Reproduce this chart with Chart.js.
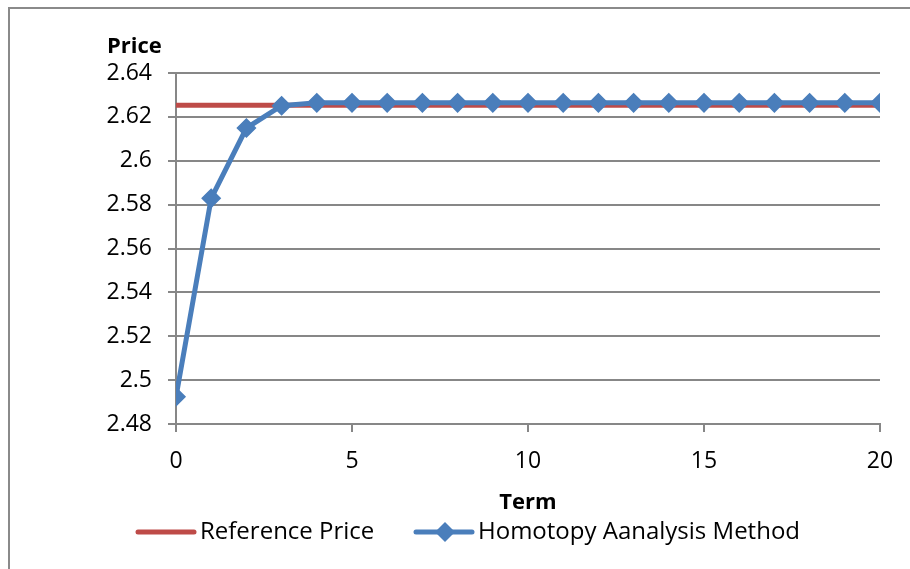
<!DOCTYPE html>
<html>
<head>
<meta charset="utf-8">
<script src="https://cdn.jsdelivr.net/npm/chart.js@4/dist/chart.umd.min.js"></script>
<style>
  html, body { margin: 0; padding: 0; background: #fff; }
  #wrap { position: relative; width: 910px; height: 569px; overflow: hidden; }
  #frame { position: absolute; left: 8px; top: 7px; width: 1000px; height: 1000px;
           border-left: 2px solid #8a8a8a; border-top: 2px solid #8a8a8a; box-sizing: border-box; }
  canvas { position: absolute; left: 0; top: 0; }
</style>
</head>
<body>
<div id="wrap">
  <div id="frame"></div>
  <canvas id="c" width="910" height="569"></canvas>
</div>
<script>
// ---- data ----
const terms = [0,1,2,3,4,5,6,7,8,9,10,11,12,13,14,15,16,17,18,19,20];
const hamValues = [2.4924, 2.5829, 2.6149, 2.6251, 2.6264, 2.6264, 2.6264, 2.6264, 2.6264, 2.6264, 2.6264,
                   2.6264, 2.6264, 2.6264, 2.6264, 2.6264, 2.6264, 2.6264, 2.6264, 2.6264, 2.6264];
const refValues = [2.6253, 2.6253, 2.6253, 2.6253, 2.6253, 2.6253, 2.6253, 2.6253, 2.6253, 2.6253, 2.6253,
                   2.6253, 2.6253, 2.6253, 2.6253, 2.6253, 2.6253, 2.6253, 2.6253, 2.6253, 2.6253];
const yTickLabels = ['2.48','2.5','2.52','2.54','2.56','2.58','2.6','2.62','2.64'];
const xTickLabels = ['0','5','10','15','20'];
const seriesNames = ['Reference Price', 'Homotopy Aanalysis Method'];
const yTitle = 'Price';
const xTitle = 'Term';

const FONT = "'Open Sans', 'Liberation Sans', sans-serif";
const RED = '#be4b48';
const BLUE = '#4a7ebb';
const GRID = '#878787';

const yTitlePlugin = {
  id: 'yTitle',
  afterDraw(chart) {
    const ctx = chart.ctx;
    ctx.save();
    ctx.font = "bold 22px " + FONT;
    ctx.fillStyle = '#000';
    ctx.textAlign = 'left';
    ctx.textBaseline = 'middle';
    ctx.fillText(yTitle, 107, 47);
    ctx.restore();
  }
};

const legendPlugin = {
  id: 'customLegend',
  afterDraw(chart) {
    const ctx = chart.ctx;
    const y = 532;
    ctx.save();
    ctx.font = "24px " + FONT;
    ctx.textBaseline = 'middle';
    ctx.textAlign = 'left';
    const items = [
      { name: seriesNames[0], color: RED, marker: false, x: 136 },
      { name: seriesNames[1], color: BLUE, marker: true, x: 414 }
    ];
    items.forEach(it => {
      ctx.strokeStyle = it.color;
      ctx.lineWidth = 5;
      ctx.lineCap = 'round';
      ctx.beginPath();
      ctx.moveTo(it.x + 2, y);
      ctx.lineTo(it.x + 58, y);
      ctx.stroke();
      if (it.marker) {
        const cx = it.x + 31, r = 10;
        ctx.fillStyle = it.color;
        ctx.beginPath();
        ctx.moveTo(cx, y - r); ctx.lineTo(cx + r, y); ctx.lineTo(cx, y + r); ctx.lineTo(cx - r, y);
        ctx.closePath(); ctx.fill();
      }
      ctx.fillStyle = '#000';
      ctx.fillText(it.name, it.x + 64, y);
    });
    ctx.restore();
  }
};

new Chart(document.getElementById('c'), {
  type: 'line',
  data: {
    datasets: [
      {
        label: seriesNames[0],
        data: terms.map((t, i) => ({ x: t, y: refValues[i] })),
        borderColor: RED,
        backgroundColor: RED,
        borderWidth: 5,
        pointRadius: 0,
        pointHoverRadius: 0,
        order: 2
      },
      {
        label: seriesNames[1],
        data: terms.map((t, i) => ({ x: t, y: hamValues[i] })),
        borderColor: BLUE,
        backgroundColor: BLUE,
        borderWidth: 5,
        pointStyle: 'rectRot',
        pointRadius: 9,
        pointBorderWidth: 1.5,
        pointBackgroundColor: BLUE,
        pointBorderColor: BLUE,
        order: 1
      }
    ]
  },
  options: {
    responsive: false,
    animation: false,
    events: [],
    layout: { padding: { top: 73, right: 30, bottom: 0, left: 0 } },
    plugins: {
      legend: { display: false },
      tooltip: { enabled: false },
      title: { display: false }
    },
    scales: {
      x: {
        type: 'linear',
        min: 0, max: 20,
        afterFit(s) { s.height = 145; },
        afterBuildTicks(s) { s.ticks = xTickLabels.map(v => ({ value: Number(v) })); },
        ticks: {
          callback: (v) => xTickLabels.find(l => Number(l) === v) ?? '',
          font: { family: FONT, size: 23 },
          color: '#000',
          padding: 16,
          maxRotation: 0
        },
        grid: { drawOnChartArea: false, drawTicks: true, tickLength: 8, color: GRID, lineWidth: 2 },
        border: { display: true, color: GRID, width: 2 },
        title: {
          display: true, text: xTitle, color: '#000',
          font: { family: FONT, size: 22, weight: 'bold' },
          padding: { top: 0, bottom: 53 }
        }
      },
      y: {
        type: 'linear',
        min: 2.48, max: 2.64,
        afterFit(s) { s.width = 176; },
        afterBuildTicks(s) { s.ticks = yTickLabels.map(v => ({ value: Number(v) })); },
        ticks: {
          callback: (v) => yTickLabels.find(l => Math.abs(Number(l) - v) < 1e-9) ?? '',
          font: { family: FONT, size: 23 },
          color: '#000',
          padding: 16
        },
        grid: { color: GRID, lineWidth: 2, tickLength: 8, drawTicks: true },
        border: { display: true, color: GRID, width: 2 }
      }
    }
  },
  plugins: [yTitlePlugin, legendPlugin]
});
</script>
</body>
</html>
